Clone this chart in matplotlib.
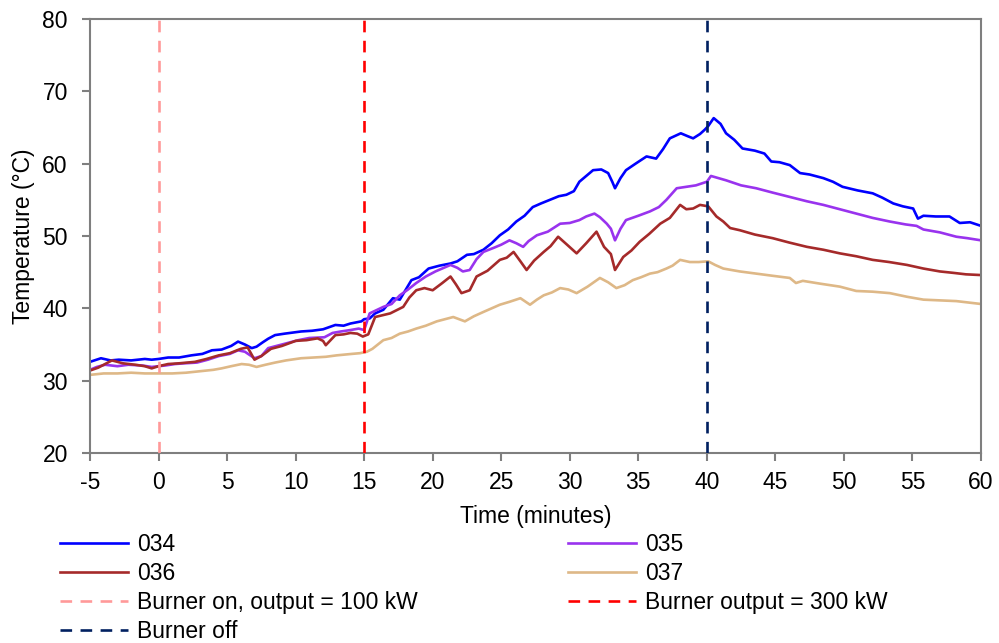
import matplotlib
matplotlib.use("Agg")
import matplotlib.pyplot as plt

plt.rcParams['font.family'] = ['Liberation Sans', 'DejaVu Sans']
plt.rcParams['axes.unicode_minus'] = False

# ---------------- data ----------------
t034 = [-5, -4.2, -3.5, -2.9, -2.0, -1.0, -0.5, 0.0, 0.7, 1.5,
        2.4, 3.2, 3.9, 4.6, 5.3, 5.8, 6.3, 6.8, 7.15, 7.6,
        8.0, 8.5, 9.2, 10.4, 11.2, 12.0, 12.9, 13.5, 14.0, 14.8,
        15.0, 15.4, 15.8, 16.4, 17.1, 17.6, 18.45, 19.0, 19.7, 20.5,
        21.3, 21.8, 22.5, 23.0, 23.7, 24.3, 24.9, 25.5, 26.1, 26.7,
        27.3, 27.9, 28.55, 29.2, 29.75, 30.3, 30.7, 31.2, 31.7, 32.3,
        32.8, 33.1, 33.3, 33.7, 34.1, 34.8, 35.6, 36.3, 36.8, 37.3,
        38.1, 38.6, 39.0, 39.5, 39.85, 40.1, 40.5, 41.0, 41.4, 42.0,
        42.6, 43.5, 44.2, 44.7, 45.3, 46.05, 46.8, 47.5, 48.5, 49.2,
        49.9, 51.0, 52.1, 52.8, 53.6, 54.3, 55.05, 55.4, 55.8, 56.7,
        57.7, 58.45, 59.2, 60.0]
v034 = [32.6, 33.1, 32.8, 32.9, 32.8, 33.0, 32.9, 33.0, 33.2, 33.2,
        33.5, 33.7, 34.2, 34.3, 34.8, 35.4, 35.0, 34.5, 34.7, 35.3,
        35.8, 36.3, 36.5, 36.8, 36.9, 37.1, 37.7, 37.6, 37.9, 38.2,
        38.5, 38.6, 39.3, 39.8, 41.4, 41.2, 43.9, 44.3, 45.5, 45.9,
        46.2, 46.5, 47.4, 47.5, 48.1, 49.0, 50.1, 50.9, 52.0, 52.8,
        54.0, 54.5, 55.0, 55.5, 55.7, 56.2, 57.5, 58.3, 59.1, 59.2,
        58.7, 57.5, 56.6, 58.0, 59.1, 60.0, 61.0, 60.7, 62.0, 63.5,
        64.2, 63.8, 63.5, 64.1, 64.7, 65.2, 66.3, 65.5, 64.2, 63.3,
        62.1, 61.8, 61.4, 60.3, 60.2, 59.8, 58.7, 58.5, 58.0, 57.5,
        56.8, 56.3, 55.9, 55.3, 54.5, 54.1, 53.8, 52.4, 52.8, 52.7,
        52.7, 51.8, 51.9, 51.4]

t035 = [-5, -4.5, -3.9, -3.0, -2.2, -1.2, -0.5, 0.5, 1.2, 1.9,
        2.8, 3.6, 4.4, 5.2, 5.8, 6.3, 7.0, 7.5, 8.0, 9.0,
        10.2, 11.0, 12.1, 12.7, 13.3, 14.0, 14.6, 15.0, 15.4, 16.4,
        17.0, 17.6, 18.2, 18.8, 19.5, 20.2, 21.3, 21.8, 22.2, 22.7,
        23.2, 23.7, 24.5, 25.0, 25.6, 26.1, 26.6, 27.0, 27.6, 28.4,
        29.3, 30.0, 30.7, 31.2, 31.8, 32.2, 32.7, 33.0, 33.3, 33.7,
        34.1, 35.0, 35.85, 36.5, 37.05, 37.8, 38.5, 39.2, 40.0, 40.3,
        41.4, 42.5, 43.6, 44.8, 46.05, 47.3, 48.5, 49.7, 50.9, 52.1,
        53.35, 54.5, 55.3, 55.8, 57.0, 58.2, 59.0, 60.0]
v035 = [31.5, 31.9, 32.2, 32.0, 32.2, 32.1, 31.9, 32.1, 32.3, 32.4,
        32.5, 32.9, 33.4, 33.7, 34.2, 34.0, 33.1, 33.4, 34.5, 35.0,
        35.6, 35.9, 36.0, 36.6, 36.8, 37.0, 37.2, 37.0, 39.3, 40.2,
        40.6, 41.8, 42.6, 43.5, 44.4, 45.1, 46.0, 45.6, 45.1, 45.3,
        46.8, 47.8, 48.4, 48.8, 49.4, 49.0, 48.5, 49.3, 50.1, 50.6,
        51.7, 51.8, 52.2, 52.7, 53.1, 52.6, 51.7, 51.0, 49.4, 51.0,
        52.2, 52.8, 53.4, 54.0, 55.0, 56.6, 56.8, 57.0, 57.5, 58.3,
        57.7, 57.0, 56.6, 56.0, 55.4, 54.8, 54.3, 53.7, 53.1, 52.5,
        52.0, 51.6, 51.4, 50.9, 50.5, 49.9, 49.7, 49.4]

t036 = [-5, -4.4, -3.4, -2.6, -1.7, -1.0, -0.5, 0.0, 0.7, 1.5,
        2.65, 3.5, 4.4, 5.2, 6.0, 6.5, 7.0, 7.5, 8.2, 9.0,
        10.0, 10.8, 11.6, 12.0, 12.2, 12.9, 13.5, 14.0, 14.5, 14.9,
        15.3, 15.8, 16.9, 17.85, 18.3, 18.8, 19.4, 20.0, 20.7, 21.3,
        21.7, 22.1, 22.7, 23.2, 24.0, 24.9, 25.4, 25.9, 26.4, 26.85,
        27.4, 28.1, 28.6, 29.15, 29.8, 30.5, 31.2, 31.95, 32.5, 33.0,
        33.3, 33.9, 34.5, 35.1, 35.8, 36.6, 37.3, 38.05, 38.5, 39.0,
        39.5, 40.1, 40.7, 41.2, 41.7, 42.4, 43.5, 44.8, 46.0, 47.3,
        48.5, 49.7, 50.9, 52.1, 53.3, 54.6, 55.8, 57.0, 58.0, 58.9,
        60.0]
v036 = [31.4, 31.8, 32.8, 32.4, 32.2, 32.0, 31.7, 32.0, 32.3, 32.4,
        32.6, 33.0, 33.5, 33.8, 34.4, 34.6, 32.9, 33.4, 34.4, 34.8,
        35.5, 35.6, 35.85, 35.5, 34.9, 36.3, 36.4, 36.6, 36.5, 36.1,
        36.4, 38.8, 39.3, 40.2, 41.5, 42.5, 42.8, 42.5, 43.5, 44.4,
        43.3, 42.1, 42.5, 44.4, 45.2, 46.7, 47.0, 47.8, 46.5, 45.3,
        46.6, 47.8, 48.6, 49.9, 48.8, 47.6, 49.0, 50.6, 48.5, 47.5,
        45.3, 47.1, 48.0, 49.2, 50.3, 51.7, 52.5, 54.3, 53.7, 53.8,
        54.3, 54.1, 52.7, 52.0, 51.1, 50.8, 50.2, 49.7, 49.1, 48.5,
        48.1, 47.6, 47.2, 46.7, 46.4, 46.0, 45.5, 45.1, 44.9, 44.7,
        44.6]

t037 = [-5, -4.0, -3.0, -2.0, -1.0, 0.0, 1.0, 2.0, 3.0, 4.0,
        4.6, 5.3, 6.06, 6.6, 7.15, 7.8, 8.5, 9.3, 10.4, 11.3,
        12.2, 13.0, 14.1, 14.7, 15.2, 15.6, 16.4, 17.0, 17.6, 18.2,
        18.8, 19.5, 20.3, 20.9, 21.5, 22.35, 23.0, 23.7, 24.3, 24.9,
        25.6, 26.4, 27.1, 27.6, 28.1, 28.7, 29.3, 29.9, 30.5, 31.3,
        32.2, 32.8, 33.4, 34.0, 34.6, 35.2, 35.85, 36.4, 37.05, 37.5,
        38.05, 38.76, 39.4, 40.1, 40.6, 41.2, 42.4, 43.6, 44.8, 46.05,
        46.5, 47.0, 48.3, 49.7, 50.9, 52.1, 53.35, 54.6, 55.8, 57.0,
        58.2, 59.1, 60.0]
v037 = [30.8, 31.0, 31.0, 31.1, 31.0, 31.0, 31.0, 31.1, 31.3, 31.5,
        31.7, 32.0, 32.3, 32.2, 31.9, 32.2, 32.5, 32.8, 33.1, 33.2,
        33.3, 33.5, 33.7, 33.8, 34.0, 34.4, 35.6, 35.9, 36.5, 36.8,
        37.2, 37.6, 38.2, 38.5, 38.8, 38.2, 38.9, 39.5, 40.0, 40.5,
        40.9, 41.4, 40.5, 41.2, 41.8, 42.2, 42.8, 42.6, 42.1, 43.0,
        44.2, 43.6, 42.8, 43.2, 43.9, 44.3, 44.8, 45.0, 45.5, 45.9,
        46.7, 46.4, 46.4, 46.5, 46.0, 45.5, 45.1, 44.8, 44.5, 44.2,
        43.5, 43.8, 43.4, 43.0, 42.4, 42.3, 42.1, 41.6, 41.2, 41.1,
        41.0, 40.8, 40.6]

series_names = ['034', '035', '036', '037']
event_times = [0, 15, 40]
event_labels = ['Burner on, output = 100 kW', 'Burner output = 300 kW', 'Burner off']
x_ticks = [-5, 0, 5, 10, 15, 20, 25, 30, 35, 40, 45, 50, 55, 60]
y_ticks = [20, 30, 40, 50, 60, 70, 80]

# ---------------- styling ----------------
series_colors = ['#0000FF', '#9933EE', '#A52A2A', '#DEB887']
event_colors = ['#FF9999', '#FF0000', '#002060']
FS = 16.5
spine_col = '#7F7F7F'
lw = 1.9
dash = (0, (4.4, 3.2))

fig = plt.figure(figsize=(9.99, 6.43), dpi=100)
ax = fig.add_axes([90 / 999, 1 - 453 / 643, (981 - 90) / 999, (453 - 19) / 643])

data = [(t034, v034), (t035, v035), (t036, v036), (t037, v037)]
handles = []
for (t, v), name, c in zip(data, series_names, series_colors):
    h, = ax.plot(t, v, color=c, lw=lw, label=name, zorder=2)
    handles.append(h)

ev_handles = []
for tt, lab, c in zip(event_times, event_labels, event_colors):
    h = ax.axvline(tt, color=c, lw=lw, linestyle=dash, label=lab, zorder=3)
    ev_handles.append(h)

ax.set_xlim(-5, 60)
ax.set_ylim(20, 80)
ax.set_xticks(x_ticks)
ax.set_yticks(y_ticks)
ax.tick_params(axis='both', labelsize=FS, color=spine_col, width=1.5, length=6,
               direction='out')
ax.tick_params(axis='x', pad=7)
ax.tick_params(axis='y', pad=10)
for s in ax.spines.values():
    s.set_color(spine_col)
    s.set_linewidth(1.5)

ax.set_xlabel('Time (minutes)', fontsize=FS, labelpad=8)
ax.set_ylabel('Temperature (°C)', fontsize=FS, labelpad=5)

# legends (two columns placed explicitly)
col1 = [handles[0], handles[2], ev_handles[0], ev_handles[2]]
col2 = [handles[1], handles[3], ev_handles[1]]
common = dict(frameon=False, fontsize=FS, handlelength=2.97, handletextpad=0.39,
              labelspacing=0.26, borderpad=0, borderaxespad=0, loc='upper left')
leg1 = fig.legend(handles=col1, labels=[h.get_label() for h in col1],
                  bbox_to_anchor=(60 / 999, 1 - 533 / 643), **common)
leg2 = fig.legend(handles=col2, labels=[h.get_label() for h in col2],
                  bbox_to_anchor=(568 / 999, 1 - 533 / 643), **common)

fig.savefig('out.png', dpi=100)
